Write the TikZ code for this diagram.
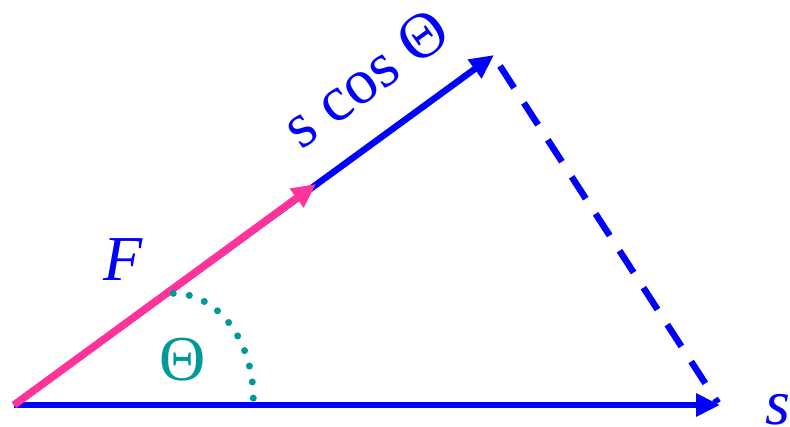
\documentclass[tikz,border=0pt]{standalone}
\usepackage{fontspec}
\setmainfont{LiberationSerif}[Extension=.ttf, UprightFont=*-Regular, ItalicFont=*-Italic, BoldFont=*-Bold, BoldItalicFont=*-BoldItalic]
\usetikzlibrary{arrows.meta}
\definecolor{vblue}{RGB}{0,0,255}
\definecolor{vpink}{RGB}{255,51,153}
\definecolor{vteal}{RGB}{0,153,153}
\begin{document}
\begin{tikzpicture}[x=1pt,y=1pt,
 vec/.style={line width=6.5pt, -{Triangle[length=24pt,width=22pt]}},
 lbl/.style={font=\fontsize{64}{64}\selectfont, inner sep=0pt}]
\useasboundingbox (0,0) rectangle (790,427);
\coordinate (O) at (14,22);
\coordinate (S) at (720,22);
\coordinate (T) at (494,372);
\coordinate (P) at (316,243);
\coordinate (D1) at (500,361);
\coordinate (D2) at (718,24);
\coordinate (A1) at (173.3,133.7);
\draw[vec, vblue] (O) -- (S);
\draw[vec, vblue] (O) -- (T);
\draw[vec, vpink, line width=7.5pt] (O) -- (P);
\draw[vblue, line width=6.5pt, dash pattern=on 26pt off 18pt] (D1) -- (D2);
\draw[vteal, line width=7pt, line cap=round, dash pattern=on 0pt off 16.2pt] (A1) arc[start angle=90, end angle=0, x radius=80, y radius=105];
\node[lbl, text=vblue, rotate=36] (sc) at (365,349) {s cos Θ};
\node[lbl, text=vblue] (F) at (123,167) {\itshape F};
\node[lbl, text=vteal] (th) at (183,67) {Θ};
\node[lbl, text=vblue] (s) at (778,17) {\itshape s};
\end{tikzpicture}
\end{document}
